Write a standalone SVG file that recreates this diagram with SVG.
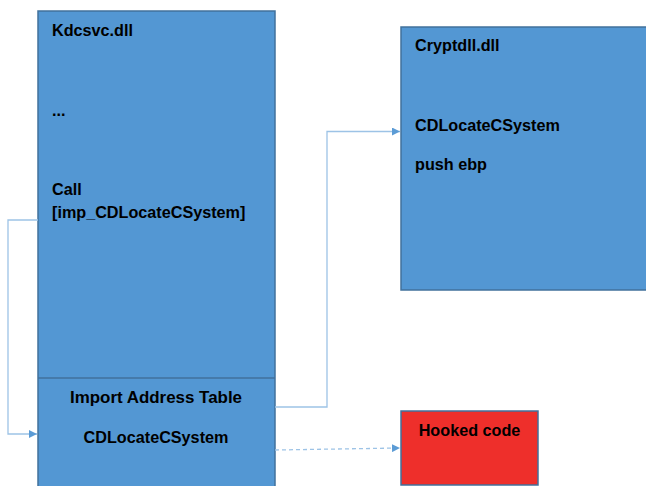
<svg xmlns="http://www.w3.org/2000/svg" width="646" height="486" viewBox="0 0 646 486">
<defs>
<style>
.box{fill:#5397d3;stroke:#41719c;stroke-width:1.5}
.red{fill:#ee2f2b;stroke:#41719c;stroke-width:1.5}
.t{font-family:"Liberation Sans",Arial,sans-serif;font-weight:bold;font-size:16.2px;fill:#000}
.c{fill:none;stroke:#9dc3e6;stroke-width:1.3}
.d{stroke-dasharray:4 3}
</style>
<marker id="ah" viewBox="0 0 10 10" refX="10" refY="5" markerWidth="8" markerHeight="8" markerUnits="userSpaceOnUse" orient="auto">
<path d="M0,0 L10,5 L0,10 z" fill="#5b9bd5"/>
</marker>
</defs>
<rect width="646" height="486" fill="#fff"/>
<g id="kdcsvc">
<rect class="box" x="38" y="11" width="237" height="480"/>
<line x1="38" y1="378" x2="275" y2="378" stroke="#41719c" stroke-width="1.5"/>
<text class="t" x="52" y="36">Kdcsvc.dll</text>
<text class="t" x="52" y="116">...</text>
<text class="t" x="52" y="195">Call</text>
<text class="t" x="52" y="218">[imp_CDLocateCSystem]</text>
<text class="t" x="156" y="403" text-anchor="middle" textLength="172" lengthAdjust="spacingAndGlyphs">Import Address Table</text>
<text class="t" x="156" y="443" text-anchor="middle">CDLocateCSystem</text>
</g>
<g id="cryptdll">
<rect class="box" x="401" y="27" width="250" height="263"/>
<text class="t" x="415" y="51">Cryptdll.dll</text>
<text class="t" x="415" y="131">CDLocateCSystem</text>
<text class="t" x="415" y="170">push ebp</text>
</g>
<g id="hooked">
<rect class="red" x="401" y="411" width="137" height="74"/>
<text class="t" x="469.5" y="436" text-anchor="middle">Hooked code</text>
</g>
<g id="connectors">
<path class="c" d="M38,220 H8 V434 H37" marker-end="url(#ah)"/>
<path class="c" d="M275,407 H327 V131.5 H400" marker-end="url(#ah)"/>
<path class="c d" d="M275,450 L400,448" marker-end="url(#ah)"/>
</g>
</svg>
